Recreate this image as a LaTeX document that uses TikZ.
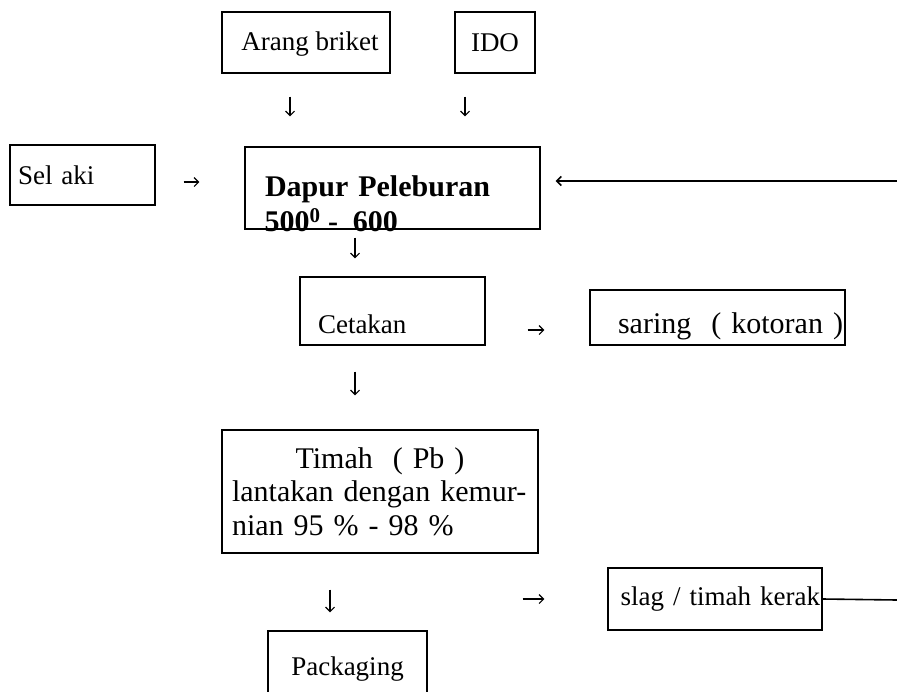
\documentclass[tikz,border=0pt]{standalone}
\usepackage{fontspec}
\setmainfont{Liberation Serif}
\newfontfamily\huruf{Liberation Serif}
\usetikzlibrary{arrows.meta, positioning}

\begin{document}
\begin{tikzpicture}[
    x=1pt, y=-1pt,
    kotak/.style={draw=black, line width=1.4pt, inner sep=0pt, align=center, font=\huruf\fontsize{27}{33.5}\selectfont},
    kiri/.style={align=left, inner xsep=#1},
    kanan/.style={align=right, inner xsep=#1},
    panah/.style={line width=1.1pt, -{Straight Barb[length=4.5pt, width=9pt]}},
    garis/.style={line width=1.6pt}
]
    \clip (0,0) rectangle (897,691);

    \node[kotak, minimum width=168pt, minimum height=61pt, text height=19pt, text depth=3pt] (arang) at (306,42.5) {\hspace*{8pt}Arang briket};
    \node[kotak, minimum width=80pt, minimum height=61pt] (ido) at (495,42.5) {IDO};
    \node[kotak, kiri=8pt, text width=129pt, minimum height=60pt] (selaki) at (82.5,175) {Sel aki};
    \node[kotak, kiri=20pt, text width=255pt, minimum height=82pt, text height=21pt, text depth=5pt,
        font=\huruf\fontsize{30}{34}\selectfont\bfseries] (dapur) at (392.5,188) {Dapur Peleburan};
    \node[anchor=base west, inner sep=0pt, font=\huruf\fontsize{30}{34}\selectfont\bfseries] (suhu)
        at ([xshift=20pt, yshift=-2pt]dapur.south west) {500\textsuperscript{0} -\ \ 600};
    \node[kotak, kiri=18pt, text width=149pt, minimum height=68pt, text height=50pt, text depth=6pt] (cetakan) at (392.5,311) {Cetakan};
    \node[kotak, kanan=2pt, text width=251pt, minimum height=55pt, text height=40pt, text depth=9pt,
        font=\huruf\fontsize{30}{33}\selectfont] (saring) at (717.5,317.5) {saring\ \ ( kotoran )};
    \node[kotak, kiri=10pt, text width=296pt, minimum height=123pt,
        font=\huruf\fontsize{30}{33.5}\selectfont] (timah) at (380,491.5)
        {\makebox[296pt]{Timah\ \ ( Pb )}\\lantakan dengan kemur-\\nian 95 \% - 98 \%};
    \node[kotak, kanan=2pt, text width=210pt, minimum height=62pt] (slag) at (715,599) {slag / timah kerak};
    \node[kotak, minimum width=159pt, minimum height=76pt] (packaging) at (347.5,669) {Packaging};

    \coordinate (kanan1) at (897,181);
    \coordinate (kanan2) at (897,600);

    % arus bahan
    \draw[panah, shorten <=23pt, shorten >=30pt] ([xshift=-16pt]arang.south) -- ([xshift=-16pt]arang.south |- dapur.north);
    \draw[panah, shorten <=23pt, shorten >=30pt] ([xshift=-30pt]ido.south) -- ([xshift=-30pt]ido.south |- dapur.north);
    \draw[panah, shorten <=28pt, shorten >=45pt] ([yshift=-7pt]selaki.east) -- ([yshift=-7pt]selaki.east -| dapur.west);
    \draw[panah, line width=1.6pt, shorten >=15pt] (kanan1) -- (kanan1 -| dapur.east);
    \draw[panah, shorten <=8pt, shorten >=18pt] ([xshift=-37.5pt]dapur.south) -- ([xshift=-37.5pt]dapur.south |- cetakan.north);
    \draw[panah, shorten <=42pt, shorten >=45pt] ([yshift=-19pt]cetakan.east) -- ([yshift=-19pt]cetakan.east -| saring.west);
    \draw[panah, shorten <=26pt, shorten >=34pt] ([xshift=-37.5pt]cetakan.south) -- ([xshift=-37.5pt]cetakan.south |- timah.north);
    \draw[panah, shorten <=36pt, shorten >=18pt] ([xshift=-50pt]timah.south) -- ([xshift=-50pt]timah.south |- packaging.north);
    \draw[panah, shorten <=-16pt, shorten >=63pt] (slag.west -| timah.east) -- (slag.west);
    \draw[garis] (slag.east) -- (kanan2);
\end{tikzpicture}
\end{document}
